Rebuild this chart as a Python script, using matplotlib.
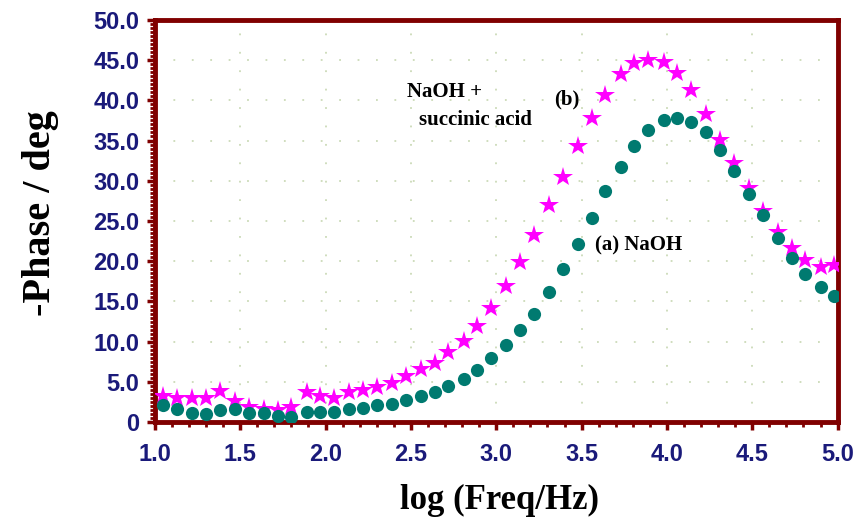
import matplotlib.pyplot as plt
from matplotlib.ticker import MultipleLocator, FormatStrFormatter

# log frequency (shared by both series)
log_freq = [1.05, 1.13, 1.22, 1.30, 1.38, 1.47, 1.55, 1.64, 1.72, 1.80, 1.89, 1.97,
            2.05, 2.14, 2.22, 2.30, 2.39, 2.47, 2.56, 2.64, 2.72, 2.81, 2.89, 2.97,
            3.06, 3.14, 3.22, 3.31, 3.39, 3.48, 3.56, 3.64, 3.73, 3.81, 3.89, 3.98,
            4.06, 4.14, 4.23, 4.31, 4.39, 4.48, 4.56, 4.65, 4.73, 4.81, 4.90, 4.98]

# (a) NaOH
phase_naoh = [2.1, 1.6, 1.1, 1.0, 1.5, 1.6, 1.1, 1.1, 0.8, 0.6, 1.25, 1.25,
              1.3, 1.7, 1.8, 2.1, 2.3, 2.8, 3.3, 3.8, 4.5, 5.4, 6.5, 8.0,
              9.65, 11.4, 13.5, 16.2, 19.0, 22.1, 25.4, 28.7, 31.7, 34.3, 36.3, 37.6,
              37.8, 37.3, 36.0, 33.8, 31.2, 28.4, 25.7, 22.9, 20.4, 18.4, 16.75, 15.7]

# (b) NaOH + succinic acid
phase_succ = [3.2, 3.0, 3.0, 3.05, 3.9, 2.7, 1.85, 1.6, 1.5, 1.9, 3.7, 3.2,
              3.0, 3.7, 4.0, 4.35, 4.9, 5.7, 6.6, 7.4, 8.7, 10.1, 11.9, 14.25,
              16.9, 19.9, 23.3, 27.0, 30.5, 34.3, 37.8, 40.7, 43.2, 44.6, 45.0, 44.7,
              43.4, 41.3, 38.3, 35.1, 32.2, 29.1, 26.2, 23.6, 21.6, 20.1, 19.3, 19.5]

frame = '#800000'
navy = '#1a1a7a'
serif = 'Liberation Serif'

fig = plt.figure(figsize=(8.6, 5.2), dpi=100)
ax = fig.add_axes([0.180, 0.188, 0.794, 0.774])

# sparse dotted grid at the major ticks
ax.grid(True, which='major', color='#cbdab8', linestyle=(0, (1, 9.2)), linewidth=1.3)
ax.set_axisbelow(True)

ax.plot(log_freq, phase_succ, linestyle='none', marker='*', markersize=15,
        color='#ff00ff', markeredgewidth=0, zorder=3)
ax.plot(log_freq, phase_naoh, linestyle='none', marker='o', markersize=9.5,
        color='#007a70', markeredgewidth=0, zorder=4)

ax.set_xlim(1.0, 5.0)
ax.set_ylim(0, 50)
ax.xaxis.set_major_locator(MultipleLocator(0.5))
ax.xaxis.set_minor_locator(MultipleLocator(0.1))
ax.yaxis.set_major_locator(MultipleLocator(5))
ax.yaxis.set_minor_locator(MultipleLocator(0.5))
ax.xaxis.set_major_formatter(FormatStrFormatter('%.1f'))
ax.yaxis.set_major_formatter(lambda v, p: '0' if v == 0 else '%.1f' % v)

for s in ax.spines.values():
    s.set_color(frame)
    s.set_linewidth(3.5)

ax.tick_params(which='major', direction='out', length=6, width=2.5, color=frame,
               labelsize=17, labelcolor=navy)
ax.tick_params(axis='x', which='major', pad=9)
ax.tick_params(axis='y', which='major', pad=5)
ax.tick_params(which='minor', direction='out', length=3.5, width=2, color=frame)
for lab in ax.get_xticklabels() + ax.get_yticklabels():
    lab.set_fontweight('bold')
    lab.set_fontfamily('Liberation Sans')

ax.set_xlabel('log (Freq/Hz)', fontsize=25, fontweight='bold', family=serif, va='center')
ax.xaxis.set_label_coords(0.505, -0.194)
ax.set_ylabel('-Phase / deg', fontsize=29, fontweight='bold', family=serif, va='center')
ax.yaxis.set_label_coords(-0.167, 0.52)

ax.text(2.48, 41.0, 'NaOH +', fontsize=15, fontweight='bold', family=serif, va='center')
ax.text(2.55, 37.6, 'succinic acid', fontsize=15, fontweight='bold', family=serif, va='center')
ax.text(3.34, 40.1, '(b)', fontsize=15, fontweight='bold', family=serif, va='center')
ax.text(3.58, 21.9, '(a) NaOH', fontsize=15, fontweight='bold', family=serif, va='center')

fig.savefig('out.png', dpi=100)
